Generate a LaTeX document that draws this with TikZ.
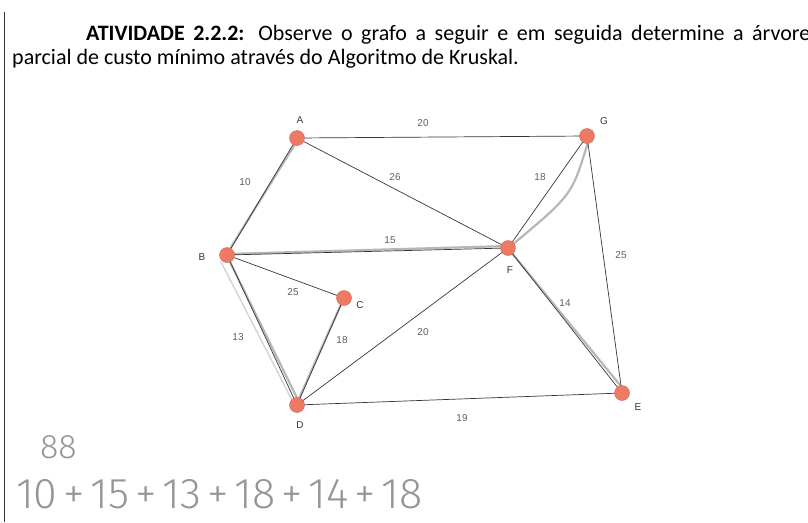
\documentclass[tikz,border=0pt]{standalone}
\usepackage{fontspec}
\setmainfont{Carlito}
\newfontfamily\labelfont{Liberation Sans}
\newfontfamily\handfont{Fira Sans Light}
\newcommand{\handplus}{\hspace{6pt}+\hspace{6pt}}
\definecolor{vertexred}{RGB}{238,122,100}
\definecolor{edgegray}{RGB}{55,55,55}
\definecolor{pencil}{RGB}{165,165,165}
\definecolor{handgray}{RGB}{150,150,150}
\begin{document}
\begin{tikzpicture}[x=1pt, y=-1pt,
	vertex/.style={shape=circle, fill=vertexred, draw=vertexred!85!black, line width=0.4pt, minimum size=15pt, inner sep=0pt},
	vname/.style={font=\labelfont\fontsize{10}{12}\selectfont, text=edgegray, inner sep=1pt},
	weight/.style={font=\labelfont\fontsize{10}{12}\selectfont, text=edgegray!80, inner sep=1pt},
	edge/.style={draw=edgegray, line width=0.7pt},
	marked/.style={draw=pencil, line width=2.2pt, line cap=round, opacity=0.8}]
	\useasboundingbox (0,0) rectangle (808,522);
	\fill[white] (0,0) rectangle (808,522);
	% left margin line
	\coordinate (M1) at (4,12);
	\coordinate (M2) at (4,522);
	\draw[line width=1pt, black!80] (M1) -- (M2);
	% statement
	\node[anchor=base west, inner sep=0pt, text width=798pt, align=justify, font=\fontsize{22}{24}\selectfont](T) at (12,40){\hspace*{74pt}\textbf{ATIVIDADE 2.2.2:} Observe o grafo a seguir e em seguida determine a árvore\linebreak parcial de custo mínimo através do Algoritmo de Kruskal.};
	% pencil marks of the chosen edges
	\coordinate (GFbend) at (572,195);
	\draw[marked] (297,141) -- (228,252);
	\draw[marked] (227,254) -- (508,246);
	\draw[marked, line width=1.4pt, draw=pencil!60] (221,262) -- (292,400);
	\draw[marked] (229,260) -- (299,402);
	\draw[marked] (343,300) -- (297,403);
	\draw[marked] (512,245) .. controls (GFbend) .. (588,142);
	\draw[marked] (511,252) -- (624,390);
	% vertices
	\node[vertex](A) at (297,138){};
	\node[vertex](G) at (587,136){};
	\node[vertex](B) at (227,255){};
	\node[vertex](F) at (508,248){};
	\node[vertex](C) at (344,298){};
	\node[vertex](D) at (297,405){};
	\node[vertex](E) at (622,393){};
	\node[vname](Aname) at (300,120){A};
	\node[vname](Gname) at (604,121){G};
	\node[vname](Bname) at (202,257){B};
	\node[vname](Fname) at (510,270){F};
	\node[vname](Cname) at (360,305){C};
	\node[vname](Dname) at (300,425){D};
	\node[vname](Ename) at (638,407){E};
	% edges
	\draw[edge] (A) -- (G);
	\draw[edge] (A) -- (B);
	\draw[edge] (A) -- (F);
	\draw[edge] (G) -- (F);
	\draw[edge] (G) -- (E);
	\draw[edge] (B) -- (F);
	\draw[edge] (B) -- (C);
	\draw[edge] (B) -- (D);
	\draw[edge] (C) -- (D);
	\draw[edge] (D) -- (F);
	\draw[edge] (F) -- (E);
	\draw[edge] (D) -- (E);
	% weights
	\node[weight](wAG) at (423,123){20};
	\node[weight](wAB) at (245,182){10};
	\node[weight](wAF) at (395,177){26};
	\node[weight](wGF) at (540,177){18};
	\node[weight](wGE) at (621,255){25};
	\node[weight](wBF) at (390,240){15};
	\node[weight](wBC) at (293,292){25};
	\node[weight](wBD) at (238,337){13};
	\node[weight](wCD) at (342,340){18};
	\node[weight](wDF) at (423,332){20};
	\node[weight](wFE) at (565,303){14};
	\node[weight](wDE) at (462,418){19};
	% handwritten answer
	\node[anchor=base west, inner sep=0pt, text=handgray, font=\handfont\fontsize{34}{34}\selectfont](Total) at (40,458){88};
	\node[anchor=base west, inner sep=0pt, text=handgray, font=\handfont\fontsize{43}{43}\selectfont](Sum) at (16,508){10\handplus15\handplus13\handplus18\handplus14\handplus18};
\end{tikzpicture}
\end{document}
